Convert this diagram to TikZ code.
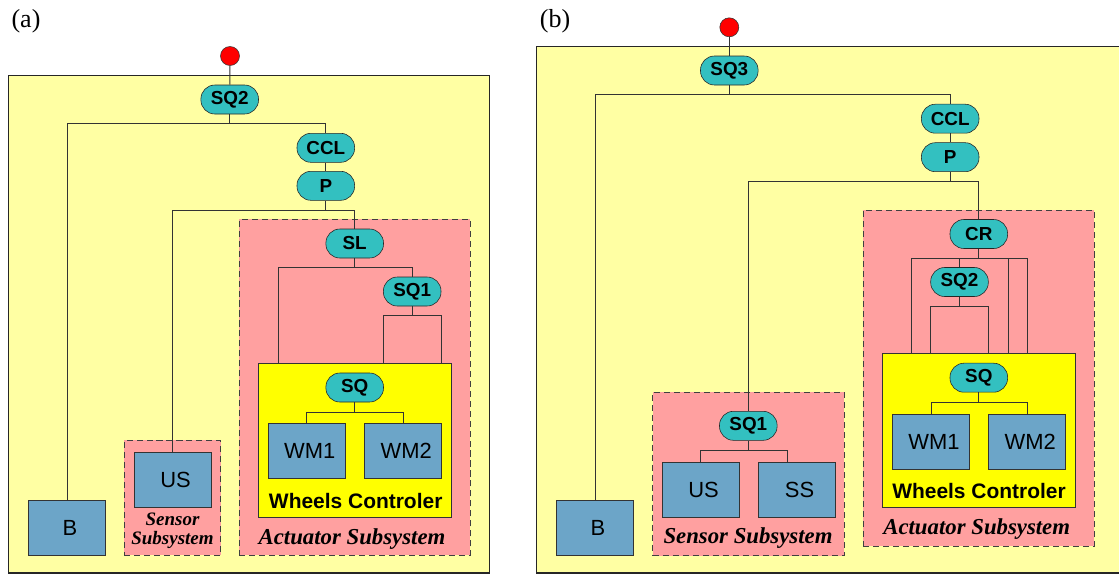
\documentclass[tikz,border=0pt]{standalone}
\usepackage{fontspec}
\setmainfont{Liberation Serif}
\setsansfont{Liberation Sans}
\usetikzlibrary{fit}

\definecolor{paleyellow}{RGB}{255,255,163}
\definecolor{pinkbg}{RGB}{255,160,160}
\definecolor{ctrlyellow}{RGB}{255,255,0}
\definecolor{pillteal}{RGB}{51,192,192}
\definecolor{boxblue}{RGB}{108,165,200}

\tikzset{
  pill/.style={draw=black!85, fill=pillteal, rounded corners=0.35cm, minimum width=1.44cm,
    minimum height=0.725cm, inner sep=0pt, font=\sffamily\bfseries\fontsize{13.4}{15}\selectfont},
  module/.style={draw=black!80, fill=boxblue, minimum width=1.925cm, minimum height=1.375cm,
    inner sep=0pt, font=\sffamily\fontsize{15.6}{18}\selectfont,
    execute at begin node=\hspace*{4.3pt}},
  subsys/.style={draw=black!75, dash pattern=on 4.3pt off 2.8pt, fill=pinkbg, inner sep=0pt},
  ctrl/.style={draw=black!80, fill=ctrlyellow, inner sep=0pt},
  rootdot/.style={circle, draw=black!80, fill=red, minimum size=0.475cm, inner sep=0pt},
  wire/.style={draw=black!80, line width=0.7pt},
  ctrllabel/.style={font=\sffamily\bfseries\fontsize{14.9}{17}\selectfont},
  caption/.style={font=\bfseries\itshape\fontsize{16.2}{18}\selectfont},
}

\begin{document}
\begin{tikzpicture}[x=0.025cm, y=-0.025cm]
\useasboundingbox (0,0) rectangle (1119,574);

% (a)
\node[font=\fontsize{18.5}{20}\selectfont] (lblA) at (26,21) {(a)};
\node[draw=black!85, line width=1.1pt, fill=paleyellow, inner sep=0pt, fit={(8.3,75.7) (489.3,573)}] (sysA) {};
\node[subsys, fit={(239.3,219.3) (470,555.3)}] (actA) {};
\node[subsys, fit={(124.3,440.3) (220.7,555.3)}] (sensA) {};
\node[ctrl, fit={(258.7,363.3) (451,517.3)}] (wcA) {};

\node[rootdot] (rootA) at (230,56) {};
\node[pill] (sq2A) at (229.7,99.5) {SQ2};
\node[pill] (cclA) at (325.8,147.8) {CCL};
\node[pill] (pA) at (325.8,185.8) {P};
\node[pill] (slA) at (354.7,243.5) {SL};
\node[pill] (sq1A) at (412.2,291.5) {SQ1};
\node[pill] (sqA) at (354.7,387.5) {SQ};
\node[module] (wm1A) at (306.8,451.2) {WM1};
\node[module] (wm2A) at (403.2,451.2) {WM2};
\node[module] (usA) at (172.5,480.2) {US};
\node[module] (bA) at (67,528) {B};
\node[ctrllabel] (wclA) at (355.7,501) {Wheels Controler};
\node[caption] (actlA) at (352,539) {Actuator Subsystem};
\node[font=\bfseries\itshape\fontsize{13.5}{13.2}\selectfont, align=center] (senslA) at (172.5,531) {Sensor\\Subsystem};
\coordinate (dropA) at (278,363.3);

\draw[wire] (rootA) -- (sq2A);
\draw[wire] (sq2A.south) -- ++(0,9.3) -| (cclA.north);
\draw[wire] (sq2A.south) ++(0,9.3) -| (bA.north);
\draw[wire] (cclA) -- (pA);
\draw[wire] (pA.south) -- ++(0,9.5) -| (slA.north);
\draw[wire] (pA.south) ++(0,9.5) -| (usA.north);
\draw[wire] (slA.south) -- ++(0,9.6) -| (sq1A.north);
\draw[wire] (slA.south) ++(0,9.6) -| (dropA);
\draw[wire] (sq1A.south) -- ++(0,9.6) -| (sq1A.west |- wcA.north);
\draw[wire] (sq1A.south) ++(0,9.6) -| (sq1A.east |- wcA.north);
\draw[wire] (sqA.south) -- ++(0,10.2) -| (wm1A.north);
\draw[wire] (sqA.south) ++(0,10.2) -| (wm2A.north);

% (b)
\node[font=\fontsize{18.5}{20}\selectfont] (lblB) at (555,21) {(b)};
\fill[paleyellow] (536.7,46.7) rectangle (1119,573);
\draw[black!85, line width=1.1pt] (1119,46.7) -| (536.7,573) -- (1119,573);
\node[subsys, fit={(863.3,210) (1094,546)}] (actB) {};
\node[subsys, fit={(652.7,392.3) (844.3,555.7)}] (sensB) {};
\node[ctrl, fit={(882.7,353.3) (1075.3,507.3)}] (wcB) {};

\node[rootdot] (rootB) at (729.3,27.3) {};
\node[pill] (sq3B) at (729.3,70.5) {SQ3};
\node[pill] (cclB) at (950.2,118.7) {CCL};
\node[pill] (pB) at (950.2,157.2) {P};
\node[pill] (crB) at (978.8,234) {CR};
\node[pill] (sq2B) at (959.5,282) {SQ2};
\node[pill] (sqB) at (978.8,377.7) {SQ};
\node[module] (wm1B) at (931,441.7) {WM1};
\node[module] (wm2B) at (1027.2,441.7) {WM2};
\node[pill] (sq1B) at (748.3,425.8) {SQ1};
\node[module] (usB) at (700.5,489.7) {US};
\node[module] (ssB) at (796.5,489.7) {SS};
\node[module] (bB) at (595,528.2) {B};
\node[ctrllabel] (wclB) at (979,490.7) {Wheels Controler};
\node[caption] (actlB) at (976.7,529.3) {Actuator Subsystem};
\node[caption] (senslB) at (748,538.3) {Sensor Subsystem};
\coordinate (d1B) at (911.7,353.3);
\coordinate (d2B) at (1008,353.3);
\coordinate (d3B) at (1027,353.3);
\coordinate (ssdrop) at (787,462);

\draw[wire] (rootB) -- (sq3B);
\draw[wire] (sq3B.south) -- ++(0,9.7) -| (cclB.north);
\draw[wire] (sq3B.south) ++(0,9.7) -| (bB.north);
\draw[wire] (cclB) -- (pB);
\draw[wire] (pB.south) -- ++(0,9.3) -| (crB.north);
\draw[wire] (pB.south) ++(0,9.3) -| (sq1B.north);
\draw[wire] (crB.south) -- ++(0,9.4) -| (sq2B.north);
\draw[wire] (crB.south) ++(0,9.4) -| (d1B);
\draw[wire] (crB.south) ++(0,9.4) -| (d2B);
\draw[wire] (crB.south) ++(0,9.4) -| (d3B);
\draw[wire] (sq2B.south) -- ++(0,9.7) -| (sq2B.west |- wcB.north);
\draw[wire] (sq2B.south) ++(0,9.7) -| (sq2B.east |- wcB.north);
\draw[wire] (sqB.south) -- ++(0,9.7) -| (wm1B.north);
\draw[wire] (sqB.south) ++(0,9.7) -| (wm2B.north);
\draw[wire] (sq1B.south) -- ++(0,10) -| (usB.north);
\draw[wire] (sq1B.south) ++(0,10) -| (ssdrop);

\end{tikzpicture}
\end{document}
